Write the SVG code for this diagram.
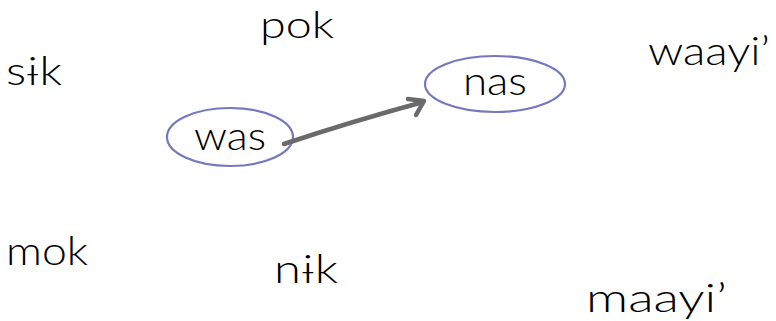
<svg xmlns="http://www.w3.org/2000/svg" width="776" height="321" viewBox="0 0 776 321">
<style>
.t{font-family:Lato,"DejaVu Sans",sans-serif;font-weight:300;font-size:40px;fill:#000}
.n{fill:none;stroke:#7478bd;stroke-width:2.2}
.c{fill:none;stroke:#6a6a6a;stroke-width:4.5;stroke-linecap:round;stroke-linejoin:round}
</style>
<rect width="776" height="321" fill="#fff"/>
<g id="sik"><text class="t" x="6" y="85" textLength="56" lengthAdjust="spacingAndGlyphs">sɨk</text></g>
<g id="pok"><text class="t" x="260" y="38" style="font-size:38px" textLength="74" lengthAdjust="spacingAndGlyphs">pok</text></g>
<g id="waayi"><text class="t" x="648" y="65" textLength="122" lengthAdjust="spacingAndGlyphs">waayi’</text></g>
<g id="mok"><text class="t" x="6" y="265" textLength="82" lengthAdjust="spacingAndGlyphs">mok</text></g>
<g id="nik"><text class="t" x="274" y="283" textLength="64" lengthAdjust="spacingAndGlyphs">nɨk</text></g>
<g id="maayi"><text class="t" x="586" y="312" textLength="141" lengthAdjust="spacingAndGlyphs">maayi’</text></g>
<g id="was"><ellipse class="n" cx="230" cy="137" rx="63" ry="29"/><text class="t" x="194" y="150" textLength="72" lengthAdjust="spacingAndGlyphs">was</text></g>
<g id="nas"><ellipse class="n" cx="495" cy="84" rx="70" ry="28"/><text class="t" x="463" y="95" textLength="64" lengthAdjust="spacingAndGlyphs">nas</text></g>
<g id="connectors">
<path class="c" d="M284 144 Q350 122 423 102"/>
<path class="c" d="M408 99 L424 101 L416 115"/>
</g>
</svg>
